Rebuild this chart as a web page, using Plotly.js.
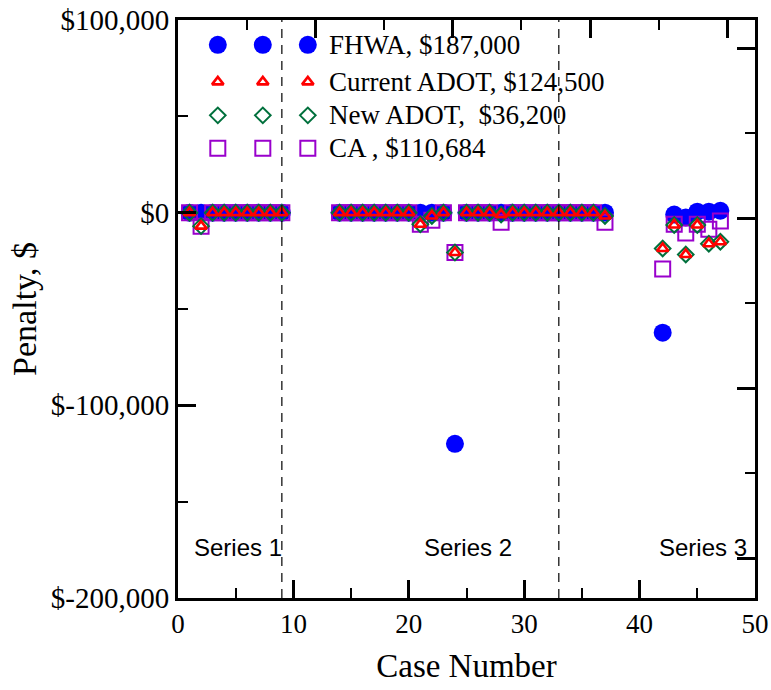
<!DOCTYPE html>
<html>
<head>
<meta charset="utf-8">
<script src="https://cdn.plot.ly/plotly-3.0.1.min.js"></script>
<style>html,body{margin:0;padding:0;background:#fff;}#chart{width:771px;height:690px;}</style>
</head>
<body>
<div id="chart"></div>
<script>
// ---- data ----
const cases = [1,2,3,4,5,6,7,8,9,
  14,15,16,17,18,19,20,21,22,23,24,25,26,27,28,29,30,31,32,33,34,35,36,37,
  42,43,44,45,46,47];
const fhwa = [0,0,0,0,0,0,0,0,0,
  0,0,0,0,0,0,0,0,0,0,-120000,0,0,0,0,0,0,0,0,0,0,0,0,0,
  -62300,-1000,-2500,500,500,1000];
const currentADOT = [0,-7000,0,0,0,0,0,0,0,
  0,0,0,0,0,0,0,-6000,-1700,0,-20700,0,0,0,-1000,0,0,0,0,0,0,0,0,-1700,
  -18600,-6400,-21700,-6400,-16100,-15100];
const newADOT = [0,-7000,0,0,0,0,0,0,0,
  0,0,0,0,0,0,0,-6000,-1700,0,-20700,0,0,0,-1000,0,0,0,0,0,0,0,0,-1700,
  -18600,-6400,-21700,-6400,-16100,-15100];
const ca = [0,-7000,0,0,0,0,0,0,0,
  0,0,0,0,0,0,0,-6000,-4000,0,-20700,0,0,0,-5000,0,0,0,0,0,0,0,0,-5000,
  -29300,-6000,-10600,-6000,-8600,-4300];
const seriesNames = ["FHWA, $187,000","Current ADOT, $124,500","New ADOT,  $36,200","CA , $110,684"];
const yTickVals = [100000, 0, -100000, -200000];
const yTickText = ["$100,000","$0","$-100,000","$-200,000"];
const dividers = [9, 33];
const groupLabels = ["Series 1","Series 2","Series 3"];
const groupLabelX = [5.2, 25.1, 45.5];
const groupLabelY = -174000;

// ---- styles ----
const serif = "Liberation Serif, Times New Roman, serif";
const styles = [
  {symbol:"circle", size:18, color:"#0000ff", line:{width:0}},
  {symbol:"triangle-up-open", size:10, color:"#ff0000", line:{width:2.6, color:"#ff0000"}},
  {symbol:"diamond-open", size:12, color:"#00703c", line:{width:2, color:"#00703c"}},
  {symbol:"square-open", size:15, color:"#9900cc", line:{width:2, color:"#9900cc"}}
];
const values = [fhwa, currentADOT, newADOT, ca];
const drawOrder = [0, 3, 2, 1];

const traces = drawOrder.map(i => ({
  type:"scatter", mode:"markers", x:cases, y:values[i], name:seriesNames[i],
  marker:styles[i], showlegend:false, hoverinfo:"skip", xaxis:"x", yaxis:"y"
}));

// custom legend (three marker samples per row, Origin style) on a hidden unit axis
const legSampleX = [0.069, 0.147, 0.225];
const legRowY = [0.957, 0.893, 0.835, 0.778];
styles.forEach((s, i) => {
  traces.push({type:"scatter", mode:"markers", x:legSampleX, y:legSampleX.map(()=>legRowY[i]),
    marker:s, showlegend:false, hoverinfo:"skip", xaxis:"x3", yaxis:"y3"});
});

const shapes = dividers.map(d => ({type:"line", xref:"x", yref:"paper", x0:d, x1:d, y0:0, y1:1,
  line:{color:"#000", width:1.2, dash:"9px,7px"}}));

const annotations = [];
seriesNames.forEach((n, i) => annotations.push({xref:"paper", yref:"paper", x:0.258, y:legRowY[i],
  xanchor:"left", yanchor:"middle", text:n, showarrow:false, font:{family:serif, size:27, color:"#000"}}));
groupLabels.forEach((t, i) => annotations.push({xref:"x", yref:"y", x:groupLabelX[i], y:groupLabelY,
  text:t, showarrow:false, xanchor:"center", yanchor:"middle",
  font:{family:"Liberation Sans, Arial, sans-serif", size:24, color:"#000"}}));

const axisCommon = {showgrid:false, zeroline:false, showline:true, linecolor:"#000", linewidth:3,
  ticks:"inside", ticklen:18, tickwidth:3, tickcolor:"#000"};

const layout = {
  width:771, height:690,
  margin:{l:178, r:16, t:20, b:92},
  paper_bgcolor:"#fff", plot_bgcolor:"#fff",
  showlegend:false,
  xaxis:Object.assign({}, axisCommon, {range:[0,50], dtick:10, tick0:0,
    tickfont:{family:serif, size:27, color:"#000"},
    minor:{ticks:"inside", dtick:5, ticklen:10, tickwidth:2, tickcolor:"#000"},
    title:{text:"Case Number", font:{family:serif, size:33, color:"#000"}, standoff:16}}),
  yaxis:Object.assign({}, axisCommon, {range:[-200000,100000], tickmode:"array",
    tickvals:yTickVals, ticktext:yTickText,
    tickfont:{family:serif, size:29, color:"#000"},
    minor:{ticks:"inside", tickmode:"linear", tick0:0, dtick:50000, ticklen:10, tickwidth:2, tickcolor:"#000"},
    title:{text:"Penalty, $", font:{family:serif, size:34, color:"#000"}, standoff:4}}),
  xaxis2:Object.assign({}, axisCommon, {overlaying:"x", side:"top", range:[0,42], dtick:10, tick0:0,
    showticklabels:false, minor:{ticks:"inside", dtick:5, ticklen:10, tickwidth:2, tickcolor:"#000"}}),
  yaxis2:Object.assign({}, axisCommon, {overlaying:"y", side:"right", range:[-2.2353,1.1647], dtick:1, tick0:0,
    showticklabels:false, minor:{ticks:"inside", dtick:0.5, ticklen:10, tickwidth:2, tickcolor:"#000"}}),
  xaxis3:{overlaying:"x", range:[0,1], visible:false, fixedrange:true},
  yaxis3:{overlaying:"y", range:[0,1], visible:false, fixedrange:true},
  shapes:shapes,
  annotations:annotations
};
// empty trace so the mirror axes are drawn
traces.unshift({type:"scatter", mode:"markers", x:[], y:[], xaxis:"x2", yaxis:"y2", showlegend:false, hoverinfo:"skip"});

Plotly.newPlot("chart", traces, layout, {displayModeBar:false, staticPlot:true});
</script>
</body>
</html>
